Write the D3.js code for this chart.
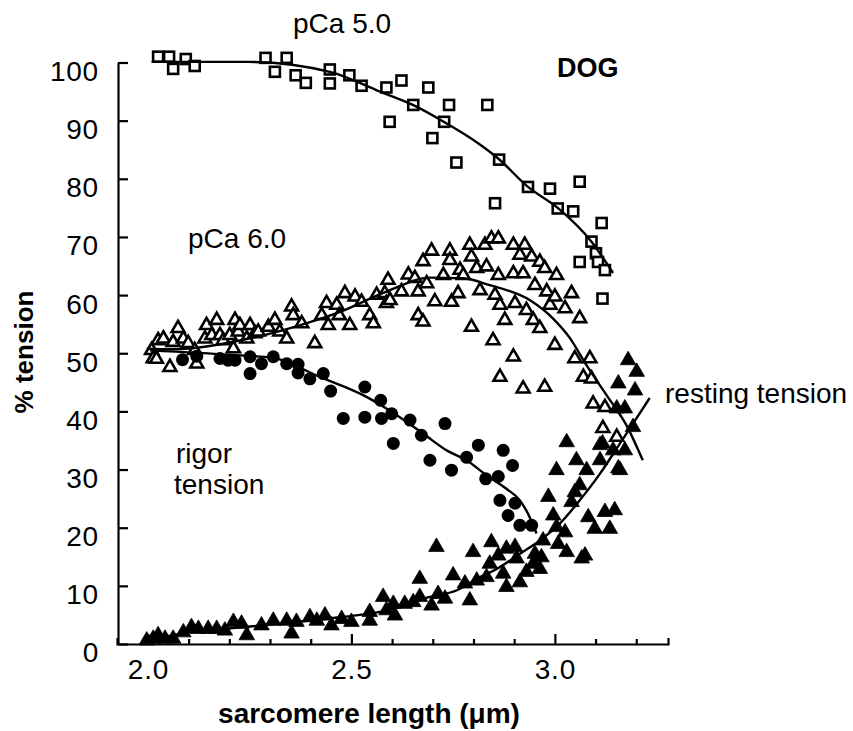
<!DOCTYPE html>
<html>
<head>
<meta charset="utf-8">
<script src="https://cdn.jsdelivr.net/npm/d3@7"></script>
<style>
  body { margin: 0; background: #fff; }
  svg { display: block; }
  text { font-family: "Liberation Sans", Arial, Helvetica, sans-serif; fill: #000; }
</style>
</head>
<body>
<svg id="chart" width="853" height="731"></svg>
<script>
// ---- data (sarcomere length in um, % tension) ----
var pca5Points = [
  [2.025,101.0],[2.052,101.0],[2.062,98.9],[2.093,100.6],[2.115,99.4],[2.289,100.8],[2.312,98.4],
  [2.341,100.8],[2.363,97.8],[2.388,96.5],[2.447,98.8],[2.447,96.4],[2.495,97.8],[2.525,96.0],
  [2.586,95.7],[2.594,89.8],[2.623,96.9],[2.652,92.7],[2.689,95.7],[2.699,87.0],[2.728,89.8],
  [2.740,92.7],[2.758,82.8],[2.834,92.7],[2.853,75.8],[2.863,83.3],[2.934,78.6],[2.988,78.3],
  [3.007,74.9],[3.045,74.4],[3.061,79.5],[3.061,65.7],[3.090,69.2],[3.101,67.2],[3.106,65.7],
  [3.115,72.4],[3.123,64.3],[3.117,59.4]
];
var pca5Fit = [
  [2.009,100.1],[2.246,100.1],[2.447,98.4],[2.570,95.0],[2.651,92.7],[2.727,89.8],[2.799,86.7],
  [2.862,83.4],[2.934,78.6],[3.007,75.0],[3.091,69.1],[3.143,63.8]
];

var pca6Points = [
  [2.009,50.5],[2.013,49.1],[2.021,49.0],[2.025,52.2],[2.038,52.5],[2.054,47.6],[2.062,51.9],[2.074,54.3],
  [2.087,52.5],[2.099,51.7],[2.115,50.5],[2.120,48.2],[2.140,52.5],[2.144,54.8],[2.157,53.1],
  [2.169,55.7],[2.177,53.1],[2.185,52.2],[2.201,53.1],[2.210,50.8],[2.214,55.7],[2.222,53.7],
  [2.226,54.8],[2.243,52.5],[2.251,54.8],[2.263,53.4],[2.271,53.7],[2.296,54.5],[2.312,55.7],
  [2.324,53.7],[2.341,52.5],[2.353,58.0],[2.357,56.5],[2.378,55.1],[2.410,51.7],[2.427,56.5],
  [2.439,58.6],[2.443,54.8],[2.464,58.3],[2.470,56.5],[2.484,60.3],[2.496,54.8],[2.509,59.7],
  [2.525,58.8],[2.545,56.5],[2.554,55.1],[2.562,60.0],[2.582,60.3],[2.586,58.6],[2.590,62.6],
  [2.595,59.1],[2.623,60.6],[2.640,63.5],[2.656,62.9],[2.664,60.6],[2.664,56.5],[2.676,55.4],
  [2.676,65.8],[2.697,67.6],[2.685,62.0],[2.705,58.9],[2.726,63.4],[2.742,67.6],[2.742,66.0],
  [2.746,58.8],[2.762,60.3],[2.767,64.3],[2.775,63.4],[2.791,68.6],[2.795,66.6],[2.795,54.5],
  [2.808,64.6],[2.816,60.8],[2.828,68.6],[2.832,64.9],[2.844,69.7],[2.848,52.2],[2.861,69.7],
  [2.853,60.0],[2.861,63.4],[2.865,58.3],[2.877,55.7],[2.898,68.6],[2.898,63.7],[2.898,49.4],
  [2.902,58.6],[2.914,66.9],[2.922,63.7],[2.926,68.6],[2.930,57.4],[2.943,66.6],[2.947,55.7],
  [2.865,45.9],[2.922,43.9],[2.951,61.7],[2.963,65.7],[2.963,54.3],[2.975,44.2],[2.975,64.6],
  [2.980,60.6],[2.988,58.3],[3.004,63.4],[3.000,59.7],[3.000,51.4],[3.025,57.7],[3.041,60.3],
  [3.061,56.0],[3.049,49.1],[3.070,45.9],[3.086,49.1],[3.090,45.6],[3.094,41.3],[3.123,40.7],
  [3.118,37.1],[3.152,35.6]
];
var pca6Fit = [
  [1.997,50.8],[2.061,50.7],[2.226,52.2],[2.373,54.8],[2.472,57.1],[2.586,60.6],[2.693,63.0],
  [2.774,62.9],[2.840,61.7],[2.939,59.1],[2.995,56.0],[3.037,52.6],[3.078,47.9],[3.127,42.8],
  [3.176,37.6],[3.216,31.6]
];

var rigorPoints = [
  [2.085,48.9],[2.120,49.5],[2.177,49.1],[2.197,48.8],[2.214,48.8],[2.251,49.4],[2.251,46.5],
  [2.279,48.2],[2.308,49.4],[2.341,48.2],[2.369,48.1],[2.369,46.6],[2.398,45.6],[2.431,46.5],
  [2.449,43.5],[2.480,38.8],[2.533,44.2],[2.533,39.0],[2.572,41.9],[2.574,38.8],[2.599,39.6],
  [2.603,34.5],[2.644,38.5],[2.672,35.9],[2.730,37.9],[2.693,31.6],[2.746,29.9],[2.783,32.1],
  [2.812,34.2],[2.873,33.3],[2.896,30.7],[2.830,28.4],[2.861,28.8],[2.865,24.7],[2.902,24.2],
  [2.885,22.1],[2.914,20.4],[2.943,20.4]
];
var rigorFit = [
  [2.005,50.5],[2.209,49.7],[2.307,49.2],[2.423,45.9],[2.537,42.5],[2.586,40.5],[2.676,36.2],
  [2.734,33.3],[2.783,31.6],[2.832,29.0],[2.881,26.7],[2.914,24.7],[2.934,22.4],[2.955,19.0]
];

var restingPoints = [
  [1.997,0.6],[2.013,0.9],[2.025,1.5],[2.042,0.9],[2.062,0.9],[2.087,2.0],[2.107,2.9],[2.124,2.6],
  [2.148,2.6],[2.169,2.6],[2.189,2.3],[2.210,3.8],[2.230,3.5],[2.243,1.5],[2.279,3.2],[2.308,4.0],
  [2.341,4.0],[2.353,1.8],[2.365,3.8],[2.398,4.6],[2.415,4.0],[2.435,4.9],[2.451,3.2],[2.476,4.3],
  [2.500,3.8],[2.545,5.5],[2.545,4.0],[2.578,8.1],[2.586,5.8],[2.603,6.9],[2.607,4.9],[2.631,6.9],
  [2.652,7.2],[2.668,11.2],[2.668,8.1],[2.697,6.6],[2.709,16.7],[2.713,8.6],[2.730,7.8],
  [2.750,11.8],[2.779,10.4],[2.791,7.5],[2.799,15.8],[2.808,10.9],[2.832,11.5],[2.840,13.8],
  [2.844,17.5],[2.861,15.2],[2.873,12.1],[2.881,16.4],[2.881,9.8],[2.902,16.7],[2.906,14.7],
  [2.914,10.6],[2.930,12.4],[2.947,13.8],[2.951,15.5],[2.963,12.9],[2.971,17.8],[2.967,14.9],
  [2.984,25.3],[2.996,22.1],[3.004,20.1],[3.008,17.2],[3.029,15.8],[3.041,24.4],[3.025,19.2],
  [3.004,29.9],[3.029,34.7],[3.053,31.6],[3.049,26.1],[3.061,27.3],[3.066,14.7],[3.074,15.2],
  [3.078,29.9],[3.082,21.8],[3.098,19.8],[3.111,31.6],[3.117,34.5],[3.123,22.7],[3.135,19.8],
  [3.147,23.0],[3.160,29.9],[3.172,33.3],[3.172,40.5],[3.192,37.3],[3.180,48.8],[3.201,46.8],
  [3.156,44.8],[3.197,43.6],[3.152,40.5],[3.111,34.2],[3.143,33.3],[3.156,30.2]
];
var restingFit = [
  [1.997,0.4],[2.061,1.5],[2.251,3.0],[2.472,4.6],[2.577,5.6],[2.693,8.1],[2.758,9.2],[2.816,11.5],
  [2.857,12.9],[2.914,15.5],[2.963,17.8],[3.012,20.7],[3.061,24.7],[3.111,29.3],[3.160,34.5],
  [3.192,37.9],[3.233,42.3]
];

var xMajorTicks = [2.0, 2.5, 3.0];
var xMinorTicks = [2.1, 2.2, 2.3, 2.4, 2.6, 2.7, 2.8, 2.9, 3.1, 3.2];
var yTickValues = [0, 10, 20, 30, 40, 50, 60, 70, 80, 90, 100];

var svg = d3.select("#chart");

// scales: axis line runs from the y axis (x=117) to x=668
var x = d3.scaleLinear().domain([1.924, 3.278]).range([117, 668]);
var y = d3.scaleLinear().domain([0, 100]).range([644, 62.5]);

// ---- axes ----
var gx = svg.append("g").attr("transform", "translate(0,644)");
gx.call(d3.axisBottom(x).tickValues(xMinorTicks).tickSizeInner(-5).tickSizeOuter(-6).tickFormat(""));
gx.append("g").call(d3.axisBottom(x).tickValues(xMajorTicks).tickSizeInner(-10).tickSizeOuter(0)
  .tickPadding(15).tickFormat(d3.format(".1f")))
  .select(".domain").remove();

var gy = svg.append("g").attr("transform", "translate(118,0)");
gy.call(d3.axisLeft(y).tickValues(yTickValues).tickSizeInner(-10).tickSizeOuter(0).tickPadding(19));
gy.selectAll(".tick text").attr("dy", "0.64em");

svg.selectAll(".domain, .tick line").attr("stroke", "#000").attr("stroke-width", 2.2);
svg.selectAll(".tick text").attr("font-size", 28).attr("fill", "#000")
  .style("letter-spacing", "0.8px")
  .style("font-family", '"Liberation Sans", Arial, sans-serif');

// ---- markers ----
var triOpen = d3.symbol().type(d3.symbolTriangle).size(72);
var triFill = d3.symbol().type(d3.symbolTriangle).size(105);

svg.append("g").selectAll("path").data(pca6Points).enter().append("path")
  .attr("d", triOpen)
  .attr("transform", function(d) { return "translate(" + x(d[0]) + "," + y(d[1]) + ")"; })
  .attr("fill", "#fff").attr("stroke", "#000").attr("stroke-width", 2.6)
  .attr("stroke-linejoin", "miter");

svg.append("g").selectAll("rect").data(pca5Points).enter().append("rect")
  .attr("x", function(d) { return x(d[0]) - 5; })
  .attr("y", function(d) { return y(d[1]) - 5; })
  .attr("width", 10).attr("height", 10)
  .attr("fill", "#fff").attr("stroke", "#000").attr("stroke-width", 2.6);

svg.append("g").selectAll("circle").data(rigorPoints).enter().append("circle")
  .attr("cx", function(d) { return x(d[0]); })
  .attr("cy", function(d) { return y(d[1]); })
  .attr("r", 6.5).attr("fill", "#000");

svg.append("g").selectAll("path").data(restingPoints).enter().append("path")
  .attr("d", triFill)
  .attr("transform", function(d) { return "translate(" + x(d[0]) + "," + y(d[1]) + ")"; })
  .attr("fill", "#000").attr("stroke", "#000").attr("stroke-width", 0.8);

// ---- fitted curves ----
var line = d3.line()
  .x(function(d) { return x(d[0]); })
  .y(function(d) { return y(d[1]); })
  .curve(d3.curveMonotoneX);

[pca5Fit, pca6Fit, rigorFit, restingFit].forEach(function(fit) {
  svg.append("path").datum(fit)
    .attr("d", line)
    .attr("fill", "none").attr("stroke", "#000").attr("stroke-width", 2.4);
});

// ---- labels ----
function label(txt, px, py, size, weight) {
  return svg.append("text").attr("x", px).attr("y", py)
    .attr("font-size", size).attr("font-weight", weight || "normal").text(txt);
}
label("pCa 5.0", 293, 33, 28);
label("DOG", 557, 77, 27, "bold");
label("pCa 6.0", 188, 248, 28);
label("rigor", 176, 463, 28);
label("tension", 174, 494, 28);
label("resting tension", 665, 403, 28);

svg.append("text")
  .attr("transform", "translate(33,352) rotate(-90)")
  .attr("text-anchor", "middle")
  .attr("font-size", 26).attr("font-weight", "bold")
  .text("% tension");

svg.append("text")
  .attr("x", 369).attr("y", 723)
  .attr("text-anchor", "middle")
  .attr("font-size", 28).attr("font-weight", "bold")
  .text("sarcomere length (\u03bcm)");
</script>
</body>
</html>
